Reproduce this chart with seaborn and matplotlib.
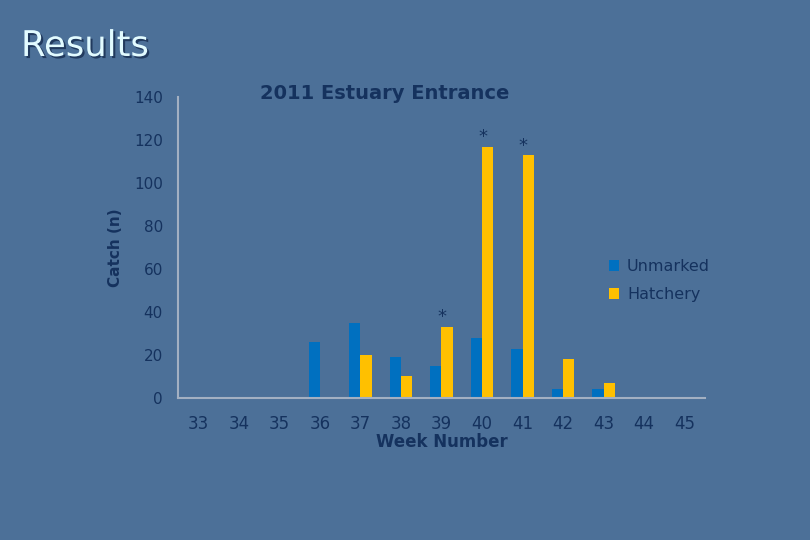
import pandas as pd
import seaborn as sns
import matplotlib.pyplot as plt
import matplotlib.patheffects as pe
from matplotlib.ticker import FixedLocator

weeks = [33, 34, 35, 36, 37, 38, 39, 40, 41, 42, 43, 44, 45]
unmarked = [0, 0, 0, 26, 35, 19, 15, 28, 23, 4, 4, 0, 0]
hatchery = [0, 0, 0, 0, 20, 10, 33, 117, 113, 18, 7, 0, 0]
starred = [39, 40, 41]

bg = '#4c7098'
navy = '#15325e'
axis_col = '#a3b0c2'

df = pd.DataFrame({'Week': weeks * 2,
                   'Catch': unmarked + hatchery,
                   'Group': ['Unmarked'] * len(weeks) + ['Hatchery'] * len(weeks)})

sns.set_style('white')
plt.rcParams['font.family'] = ['DejaVu Sans']

fig = plt.figure(figsize=(8.1, 5.4), dpi=100, facecolor=bg)
ax = fig.add_axes([0.2198, 0.263, 0.6505, 0.557])
ax.set_facecolor('none')

sns.barplot(data=df, x='Week', y='Catch', hue='Group', order=weeks,
            hue_order=['Unmarked', 'Hatchery'],
            palette={'Unmarked': '#0070c0', 'Hatchery': '#ffc000'},
            width=0.55, saturation=1, linewidth=0, ax=ax, legend=True)

# asterisks over the flagged hatchery bars
hatch_bars = ax.containers[1]
for wk, bar in zip(weeks, hatch_bars):
    if wk in starred:
        ax.text(bar.get_x() + bar.get_width() * 0.05, bar.get_height() + 0.3, '*',
                ha='center', va='bottom', color=navy, fontsize=13)

ax.set_ylim(0, 140)
ax.set_yticks(range(0, 141, 20))
ax.set_xlim(-0.5, len(weeks) - 0.5)
ax.xaxis.set_minor_locator(FixedLocator([i - 0.5 for i in range(len(weeks) + 1)]))
ax.tick_params(axis='x', which='major', length=0, pad=12, labelsize=12, colors=navy)
ax.tick_params(axis='x', which='minor', length=5, color=axis_col, direction='in')
ax.tick_params(axis='y', length=5, color=axis_col, labelsize=11, colors=navy, pad=6)
for lbl in ax.get_xticklabels() + ax.get_yticklabels():
    lbl.set_color(navy)

for s in ['top', 'right']:
    ax.spines[s].set_visible(False)
for s in ['left', 'bottom']:
    ax.spines[s].set_color(axis_col)
    ax.spines[s].set_linewidth(1.5)

ax.set_xlabel('Week Number', fontsize=12, fontweight='bold', color=navy, labelpad=0)
ax.set_ylabel('Catch (n)', fontsize=11, fontweight='bold', color=navy, labelpad=8)

handles, labels = ax.get_legend_handles_labels()
ax.legend(handles, labels, loc='center left', bbox_to_anchor=(0.79, 0.39),
          frameon=False, handlelength=0.65, handleheight=0.65, handletextpad=0.5,
          labelspacing=0.8, fontsize=11.5, labelcolor=navy)

fig.text(385 / 810, 1 - 93 / 540, '2011 Estuary Entrance', ha='center', va='center',
         fontsize=14, fontweight='bold', color=navy)
fig.text(21 / 810, 1 - 46 / 540, 'Results', ha='left', va='center',
         fontsize=25.5, color='#e2fbff',
         path_effects=[pe.SimplePatchShadow(offset=(1.5, -1.5), shadow_rgbFace='#1d3458', alpha=0.9),
                       pe.Normal()])

fig.savefig('out.png', dpi=100, facecolor=bg)
